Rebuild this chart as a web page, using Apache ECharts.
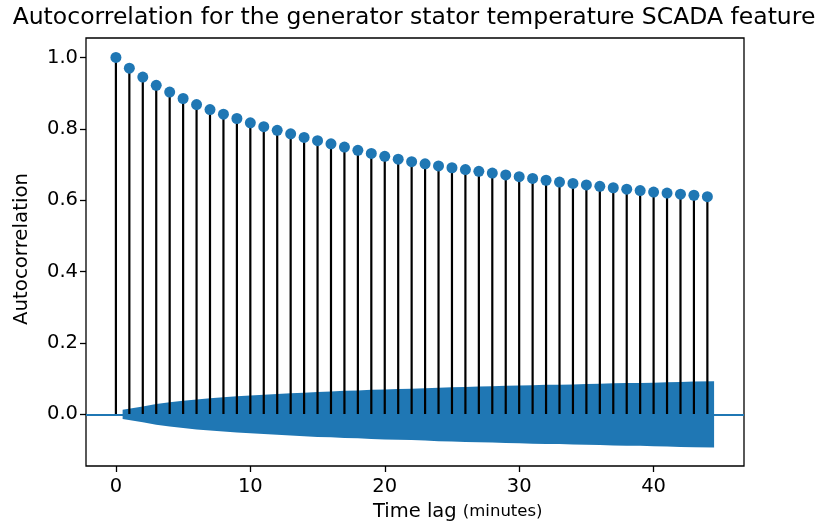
<!DOCTYPE html>
<html>
<head>
<meta charset="utf-8">
<script src="https://cdn.jsdelivr.net/npm/echarts@6/dist/echarts.min.js"></script>
<style>html,body{margin:0;padding:0;background:#fff}#c{width:819px;height:528px}</style>
</head>
<body>
<div id="c"></div>
<script>
const lags = [0,1,2,3,4,5,6,7,8,9,10,11,12,13,14,15,16,17,18,19,20,21,22,23,24,25,26,27,28,29,30,31,32,33,34,35,36,37,38,39,40,41,42,43,44];
const acfValues = [1.000,0.970,0.945,0.922,0.903,0.885,0.868,0.854,0.841,0.829,0.817,0.806,0.796,0.786,0.776,0.767,0.758,0.749,0.740,0.731,0.723,0.715,0.708,0.702,0.696,0.691,0.686,0.681,0.676,0.671,0.666,0.661,0.656,0.651,0.647,0.643,0.639,0.635,0.631,0.627,0.623,0.620,0.617,0.614,0.610];
// confidence band half-width for lags 1..44
const bandLags = [1,2,3,4,5,6,7,8,9,10,11,12,13,14,15,16,17,18,19,20,21,22,23,24,25,26,27,28,29,30,31,32,33,34,35,36,37,38,39,40,41,42,43,44];
const bandHalf = [0.013,0.022,0.029,0.034,0.038,0.042,0.045,0.048,0.051,0.053,0.055,0.057,0.059,0.061,0.063,0.064,0.066,0.067,0.069,0.070,0.071,0.072,0.073,0.075,0.076,0.077,0.078,0.079,0.080,0.081,0.082,0.083,0.083,0.084,0.085,0.086,0.087,0.088,0.088,0.089,0.090,0.091,0.092,0.093];
const xTicks = [0,10,20,30,40];
const yTicks = [0,0.2,0.4,0.6,0.8,1.0];
const titleText = 'Autocorrelation for the generator stator temperature SCADA feature';
const yLabel = 'Autocorrelation';

const FONT = 'DejaVu Sans';
const BLUE = '#1f77b4';

// band x positions: first shifted left by half a lag, last shifted right
const bandX = bandLags.map((l, i) => i === 0 ? l - 0.5 : (i === bandLags.length - 1 ? l + 0.5 : l));
const upper = bandX.map((x, i) => [x, bandHalf[i]]);
const lower = bandX.map((x, i) => [x, -bandHalf[i]]);
const points = lags.map((l, i) => [l, acfValues[i]]);

const chart = echarts.init(document.getElementById('c'), null, {renderer: 'canvas'});
chart.setOption({
  animation: false,
  backgroundColor: '#fff',
  textStyle: {fontFamily: FONT},
  grid: {left: 86, top: 38, width: 658, height: 428, show: true, borderColor: '#000', borderWidth: 1.3, backgroundColor: 'transparent'},
  xAxis: {
    type: 'value', min: -2.225, max: 46.725,
    splitLine: {show: false},
    axisLine: {show: false, onZero: false},
    axisTick: {show: true, length: 6, lineStyle: {color: '#000', width: 1.3}, customValues: xTicks},
    axisLabel: {color: '#000', fontSize: 19.5, fontFamily: FONT, margin: 11, customValues: xTicks, formatter: v => String(Math.round(v))}
  },
  yAxis: {
    type: 'value', min: -0.1445, max: 1.0545,
    splitLine: {show: false},
    axisLine: {show: false, onZero: false},
    axisTick: {show: true, length: 6, lineStyle: {color: '#000', width: 1.3}, customValues: yTicks},
    axisLabel: {color: '#000', fontSize: 19.5, fontFamily: FONT, margin: 8, customValues: yTicks, formatter: v => v.toFixed(1)}
  },
  series: [
    {type: 'line', data: upper, showSymbol: false, symbol: 'none', lineStyle: {width: 0}, areaStyle: {color: BLUE, opacity: 1}, z: 1, silent: true},
    {type: 'line', data: lower, showSymbol: false, symbol: 'none', lineStyle: {width: 0}, areaStyle: {color: BLUE, opacity: 1}, z: 1, silent: true},
    {
      type: 'custom', z: 2, silent: true,
      data: points,
      renderItem: function (params, api) {
        const p1 = api.coord([api.value(0), 0]);
        const p2 = api.coord([api.value(0), api.value(1)]);
        return {type: 'line', shape: {x1: p1[0], y1: p1[1], x2: p2[0], y2: p2[1]}, style: {stroke: '#000', lineWidth: 2.2}};
      },
      markLine: {silent: true, symbol: 'none', label: {show: false}, lineStyle: {color: BLUE, width: 1.8, type: 'solid'}, data: [{yAxis: 0}]}
    },
    {type: 'scatter', data: points, symbol: 'circle', symbolSize: 11, itemStyle: {color: BLUE, opacity: 1}, z: 4, silent: true}
  ],
  graphic: [
    {type: 'text', x: 414, y: 18, style: {text: titleText, fontFamily: FONT, fontSize: 23.5, fill: '#000', align: 'center', verticalAlign: 'middle'}},
    {type: 'text', x: 22, y: 249, rotation: Math.PI / 2, style: {text: yLabel, fontFamily: FONT, fontSize: 19.8, fill: '#000', align: 'center', verticalAlign: 'middle'}},
    {type: 'text', x: 373, y: 522, style: {
      text: '{a|Time lag }{b|(minutes)}', fontFamily: FONT, verticalAlign: 'bottom', align: 'left',
      rich: {a: {fontFamily: FONT, fontSize: 19.5, color: '#000'}, b: {fontFamily: FONT, fontSize: 16.5, color: '#000'}}
    }}
  ]
});
</script>
</body>
</html>
